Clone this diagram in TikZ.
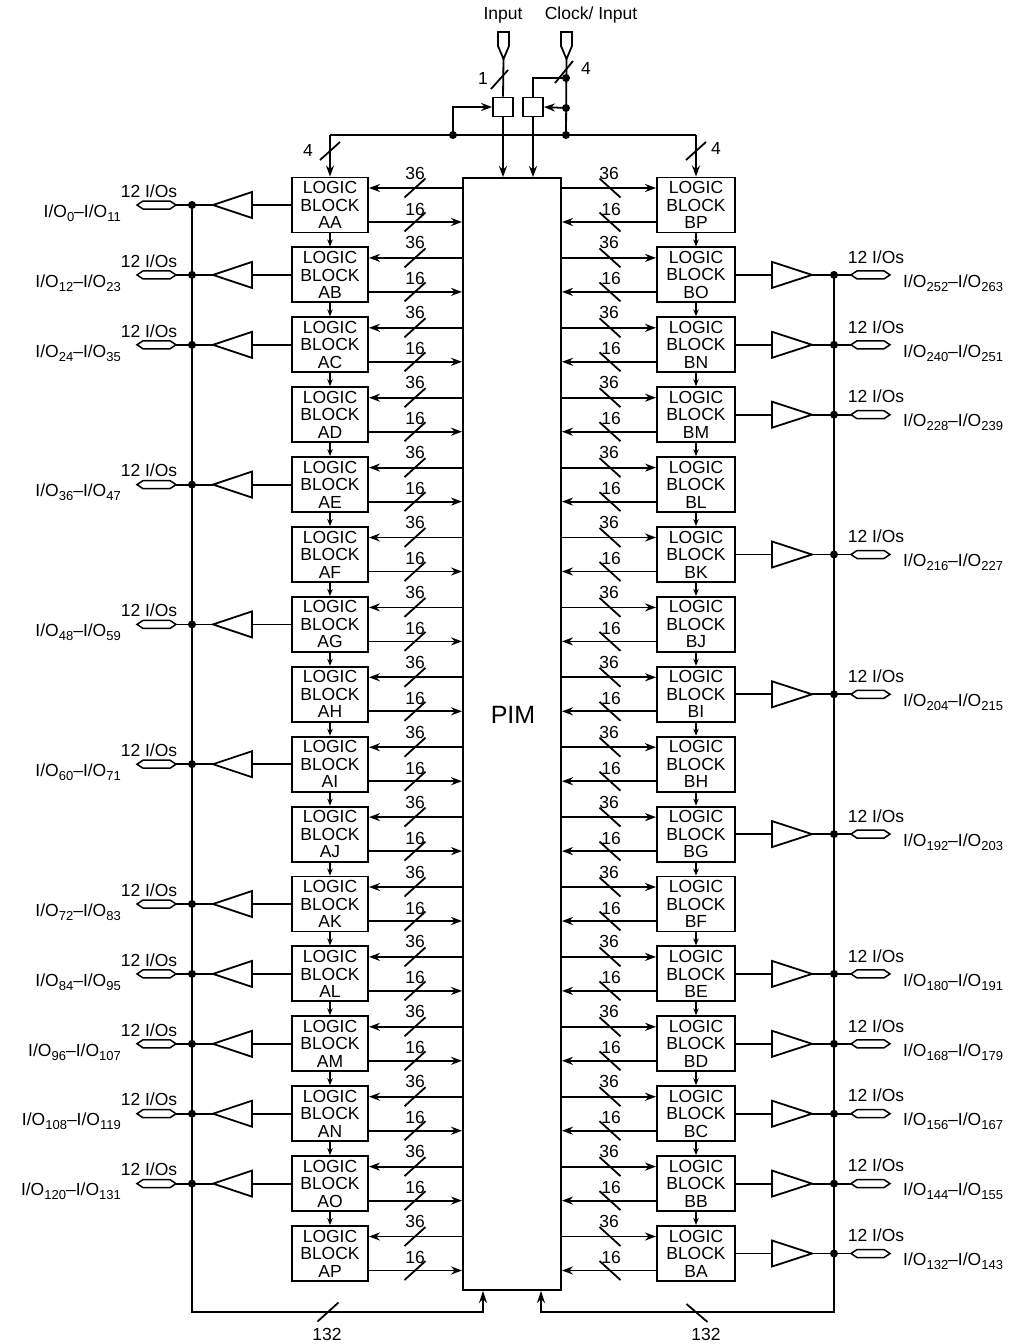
\documentclass[tikz,border=0pt]{standalone}
\usepackage{fontspec}
\setmainfont{Liberation Sans}
\usetikzlibrary{arrows.meta,calc}
\newcommand\iosub[1]{\raisebox{-4pt}{\fontsize{13}{13}\selectfont #1}}
\begin{document}
\begin{tikzpicture}[x=1pt,y=-1pt,
  fnt/.style={font=\fontsize{17.5}{17.5}\selectfont},
  blk/.style={draw,line width=1.9pt,minimum width=76pt,minimum height=55pt,inner sep=0pt,align=center,fnt},
  ln/.style={line width=1.8pt},
  arr/.style={ln,-{Stealth[length=11pt,width=8pt]}},
  sarr/.style={ln,-{Stealth[length=7pt,width=5.5pt]}},
  lbl/.style={fnt,inner sep=0pt},
  dot/.style={circle,fill,inner sep=0pt,minimum size=8pt},
  smallbox/.style={draw,line width=1.8pt,minimum width=20pt,minimum height=19pt,inner sep=0pt}]
\useasboundingbox (0,0) rectangle (1018,1344);

% PIM
\node[draw,line width=1.9pt,minimum width=98pt,minimum height=1112pt,inner sep=0pt] (PIM) at (512,734) {};
\node[font=\fontsize{25}{25}\selectfont,inner sep=0pt] (pimlbl) at (513,715) {PIM};

% logic blocks
\foreach \n [count=\i from 0] in {AA,AB,AC,AD,AE,AF,AG,AH,AI,AJ,AK,AL,AM,AN,AO,AP}{
  \pgfmathsetmacro\yc{205+\i*69.9}
  \node[blk] (L\i) at (330,\yc) {LOGIC\\BLOCK\\\n};
}
\foreach \n [count=\i from 0] in {BP,BO,BN,BM,BL,BK,BJ,BI,BH,BG,BF,BE,BD,BC,BB,BA}{
  \pgfmathsetmacro\yc{205+\i*69.9}
  \node[blk,minimum width=78pt] (R\i) at (696,\yc) {LOGIC\\BLOCK\\\n};
}

% PIM <-> block arrows
\foreach \i in {0,...,15}{
  \pgfmathsetmacro\ya{177+\i*69.9+11}
  \pgfmathsetmacro\yb{177+\i*69.9+45}
  \coordinate (ya\i) at (0,\ya);
  \coordinate (yb\i) at (0,\yb);
  \draw[arr] (PIM.west |- ya\i) -- (L\i.east |- ya\i);
  \draw[arr] (L\i.east |- yb\i) -- (PIM.west |- yb\i);
  \draw[arr] (PIM.east |- ya\i) -- (R\i.west |- ya\i);
  \draw[arr] (R\i.west |- yb\i) -- (PIM.east |- yb\i);
  \draw[ln] (415,\ya) ++(-10.5,9.5) -- ++(21,-19);
  \draw[ln] (415,\yb) ++(-10.5,9.5) -- ++(21,-19);
  \draw[ln] (610,\ya) ++(-10.5,-9.5) -- ++(21,19);
  \draw[ln] (610,\yb) ++(-10.5,-9.5) -- ++(21,19);
  \node[lbl] (la36\i) at (415,\ya-15) {36};
  \node[lbl] (la16\i) at (415,\yb-13) {16};
  \node[lbl] (ra36\i) at (609,\ya-15) {36};
  \node[lbl] (ra16\i) at (611,\yb-13) {16};
}

% block chain arrows
\foreach \i [evaluate=\i as \j using int(\i+1)] in {0,...,14}{
  \draw[sarr] (L\i.south) -- (L\j.north);
  \draw[sarr] (R\i.south) -- (R\j.north);
}

% left I/O
\foreach \i/\a/\b in {0/0/11,1/12/23,2/24/35,4/36/47,6/48/59,8/60/71,10/72/83,11/84/95,12/96/107,13/108/119,14/120/131}{
  \pgfmathsetmacro\yy{205+\i*69.9}
  \node[dot] (ld\i) at (192,\yy) {};
  \coordinate (lbb\i) at (252,\yy);
  \coordinate (lbt\i) at (213,\yy);
  \coordinate (lp\i) at (176,\yy);
  \draw[ln] (L\i.west) -- (lbb\i);
  \draw[ln] (lbb\i) ++(0,-13) -- (lbt\i) -- ++(39,13) -- cycle;
  \draw[ln] (lbt\i) -- (ld\i.center) -- (lp\i);
  \draw[line width=1.5pt] (lp\i) -- ++(-6,-4) -- ++(-27,0) -- ++(-6,4) -- ++(6,4) -- ++(27,0) -- cycle;
  \node[lbl] (lt\i) at (149,\yy-14) {12 I/Os};
  \node[lbl,anchor=east] (ll\i) at (121,\yy+8) {I/O\iosub{\a}–I/O\iosub{\b}};
}

% right I/O
\foreach \i/\a/\b in {1/252/263,2/240/251,3/228/239,5/216/227,7/204/215,9/192/203,11/180/191,12/168/179,13/156/167,14/144/155,15/132/143}{
  \pgfmathsetmacro\yy{205+\i*69.9}
  \node[dot] (rd\i) at (834,\yy) {};
  \coordinate (rbb\i) at (772,\yy);
  \coordinate (rbt\i) at (812,\yy);
  \coordinate (rp\i) at (851,\yy);
  \draw[ln] (R\i.east) -- (rbb\i);
  \draw[ln] (rbb\i) ++(0,-13) -- (rbt\i) -- ++(-40,13) -- cycle;
  \draw[ln] (rbt\i) -- (rd\i.center) -- (rp\i);
  \draw[line width=1.5pt] (rp\i) -- ++(6,-4) -- ++(27,0) -- ++(6,4) -- ++(-6,4) -- ++(-27,0) -- cycle;
  \node[lbl] (rt\i) at (876,\yy-18) {12 I/Os};
  \node[lbl,anchor=west] (rl\i) at (903,\yy+8) {I/O\iosub{\a}–I/O\iosub{\b}};
}

% bottom buses
\coordinate (lbot) at (483,1312);
\coordinate (rbot) at (541,1312);
\draw[ln,-{Stealth[length=12pt,width=8pt]}] (ld0.center) |- (lbot) -- (lbot |- PIM.south);
\draw[ln,-{Stealth[length=12pt,width=8pt]}] (rd1.center) |- (rbot) -- (rbot |- PIM.south);
\draw[ln] (328,1312) ++(-10.5,9.5) -- ++(21,-19);
\draw[ln] (697,1313) ++(-10.5,-9) -- ++(21,18);
\node[lbl] (b132l) at (327,1334) {132};
\node[lbl] (b132r) at (706,1334) {132};

% top section
\coordinate (tbl) at (330,135);
\coordinate (tbr) at (696,135);
\draw[ln] (tbl) -- (tbr);
\draw[arr] (tbl) -- (L0.north);
\draw[arr] (tbr) -- (R0.north);
\draw[ln] (330,151) ++(-10,9) -- ++(20,-18);
\draw[ln] (696,151) ++(-10,9) -- ++(20,-18);
\node[lbl] (t4l) at (308,150) {4};
\node[lbl] (t4r) at (716,148) {4};

\node[dot] (id1) at (453,135) {};
\node[dot] (cd3) at (566,135) {};
\node[dot] (cd2) at (566,108) {};
\node[dot] (cd1) at (566,78) {};
\node[smallbox] (bx1) at (503,107) {};
\node[smallbox] (bx2) at (533,107) {};
\draw[arr] (id1.center) |- (bx1.west);
\draw[arr] (cd2.center) -- (bx2.east);
\draw[ln] (cd1.center) -| (bx2.north);
\draw[arr] (bx1.south) -- (bx1.south |- PIM.north);
\draw[arr] (bx2.south) -- (bx2.south |- PIM.north);

\coordinate (p1) at (503.5,59);
\coordinate (p2) at (566.5,59);
\draw[ln] (498,32) -- (509,32) -- (509,46) -- (p1) -- (498,46) -- cycle;
\draw[ln] (561,32) -- (572,32) -- (572,46) -- (p2) -- (561,46) -- cycle;
\draw[ln] (p1) -- (bx1.north);
\draw[ln] (p2) -- (cd3.center);
\draw[ln] (500,79) ++(-9,10) -- ++(17,-19);
\draw[ln] (564,72) ++(-9,11) -- ++(18,-22);
\node[lbl] (s1) at (483,78) {1};
\node[lbl] (s4) at (586,68) {4};
\node[lbl] (inp) at (503,15) {Input};
\node[lbl] (clk) at (591,15) {Clock/ Input};
\end{tikzpicture}
\end{document}
